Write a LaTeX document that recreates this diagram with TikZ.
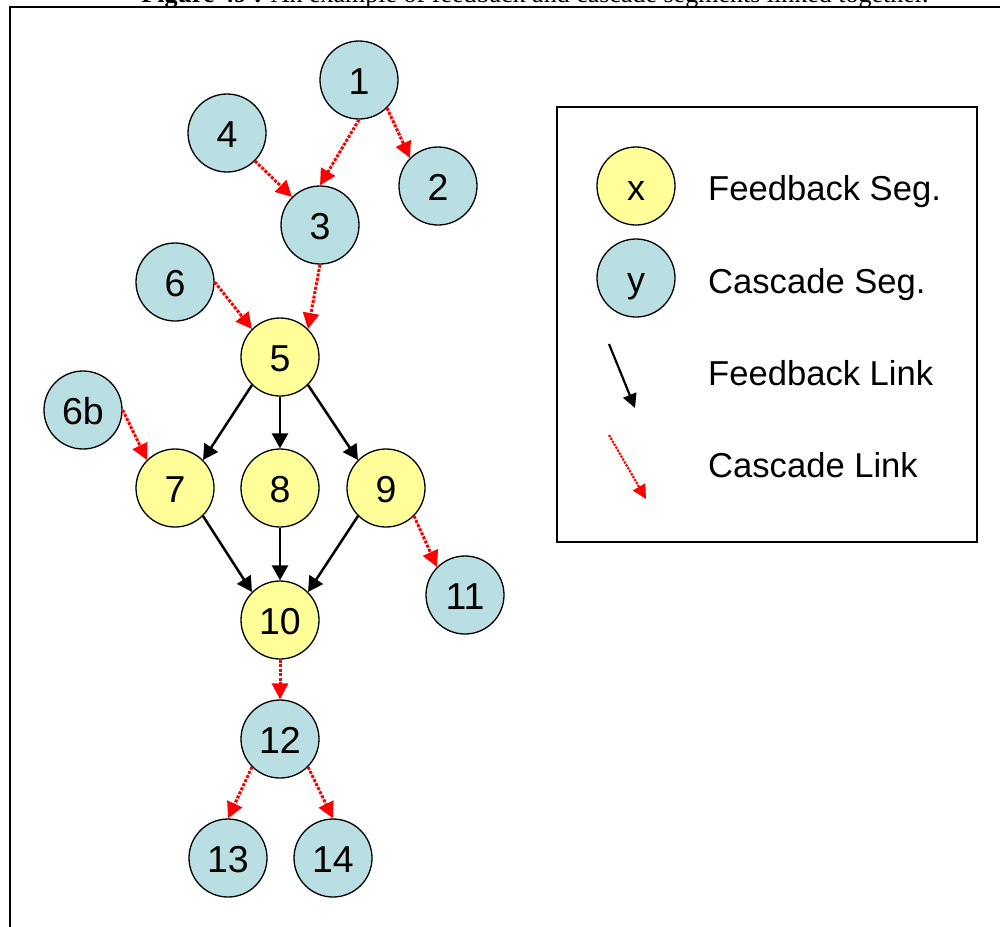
\documentclass[tikz,border=0pt]{standalone}
\usepackage{fontspec}
\setmainfont{Liberation Sans}
\newfontfamily\capfont{Liberation Serif}
\usetikzlibrary{arrows.meta}
\definecolor{fbfill}{RGB}{255,255,153}
\definecolor{csfill}{RGB}{186,223,227}
\tikzset{
  seg/.style={circle, draw=black, line width=1.3pt, minimum size=78pt, inner sep=0pt,
              text height=29pt, text depth=0pt,
              font=\fontsize{37.5}{40}\selectfont},
  fbseg/.style={seg, fill=fbfill},
  csseg/.style={seg, fill=csfill},
  fblink/.style={draw=black, line width=2.5pt, -{Triangle[length=15pt,width=16pt]}},
  cslink/.style={draw=red, line width=3pt, dash pattern=on 3pt off 1.5pt, -{Triangle[length=16pt,width=16pt]}},
  legtext/.style={anchor=base west, font=\fontsize{34.6}{40}\selectfont, inner sep=0pt},
}
\begin{document}
\begin{tikzpicture}[x=1pt,y=-1pt]
\useasboundingbox (0,0) rectangle (1000,926);
% caption (cut off at top, as in the reference)
\node[anchor=base, inner sep=0pt, font=\capfont\fontsize{26}{30}\selectfont] (cap) at (535,2)
  {\textbf{Figure 49 :} An example of feedback and cascade segments linked together.};
% outer frame
\draw[line width=2.5pt] (1010,7) -- (10,7) -- (10,940);
% nodes
\node[csseg] (n1) at (359,80) {1};
\node[csseg] (n4) at (227,133) {4};
\node[csseg] (n2) at (438,186) {2};
\node[csseg] (n3) at (320,225) {3};
\node[csseg] (n6) at (175,282) {6};
\node[fbseg] (n5) at (280,357) {5};
\node[csseg] (n6b) at (83,410) {6b};
\node[fbseg] (n7) at (175,488) {7};
\node[fbseg] (n8) at (280,488) {8};
\node[fbseg] (n9) at (386,488) {9};
\node[fbseg] (n10) at (280,620) {10};
\node[csseg] (n11) at (465,595) {11};
\node[csseg] (n12) at (280,739) {12};
\node[csseg] (n13) at (228,858) {13};
\node[csseg] (n14) at (333,858) {14};
% links
\draw[cslink] (n1.south) -- (n3.north);
\draw[cslink] (n1.south east) -- (n2.north west);
\draw[cslink] (n4.south east) -- (n3.north west);
\draw[cslink] (n3.south) -- (n5.north east);
\draw[cslink] (n6.east) -- (n5.north west);
\draw[cslink] (n6b.east) -- (n7.north west);
\draw[fblink] (n5.south west) -- (n7.north east);
\draw[fblink] (n5.south) -- (n8.north);
\draw[fblink] (n5.south east) -- (n9.north west);
\draw[fblink] (n7.south east) -- (n10.north west);
\draw[fblink] (n8.south) -- (n10.north);
\draw[fblink] (n9.south west) -- (n10.north east);
\draw[cslink] (n9.south east) -- (n11.north west);
\draw[cslink] (n10.south) -- (n12.north);
\draw[cslink] (n12.south west) -- (n13.north);
\draw[cslink] (n12.south east) -- (n14.north);
% legend
\node[draw=black, line width=1.2pt, minimum width=420pt, minimum height=435pt, inner sep=0pt] (legend) at (767,324.5) {};
\node[fbseg, font=\fontsize{36}{40}\selectfont] (lx) at (636,186) {x};
\node[csseg, font=\fontsize{36}{40}\selectfont] (ly) at (636,278) {y};
\coordinate (fa) at (609,344);
\coordinate (fb) at (635,408);
\coordinate (ca) at (609,435);
\coordinate (cb) at (646,499);
\draw[fblink, line width=2.2pt, -{Triangle[length=14pt,width=14pt]}] (fa) -- (fb);
\draw[cslink, line width=2.2pt, dash pattern=on 2.2pt off 1.2pt, -{Triangle[length=14pt,width=14pt]}] (ca) -- (cb);
\node[legtext] (t1) at (708,200) {Feedback Seg.};
\node[legtext] (t2) at (708,293) {Cascade Seg.};
\node[legtext] (t3) at (708,385) {Feedback Link};
\node[legtext] (t4) at (708,477) {Cascade Link};
\end{tikzpicture}
\end{document}
